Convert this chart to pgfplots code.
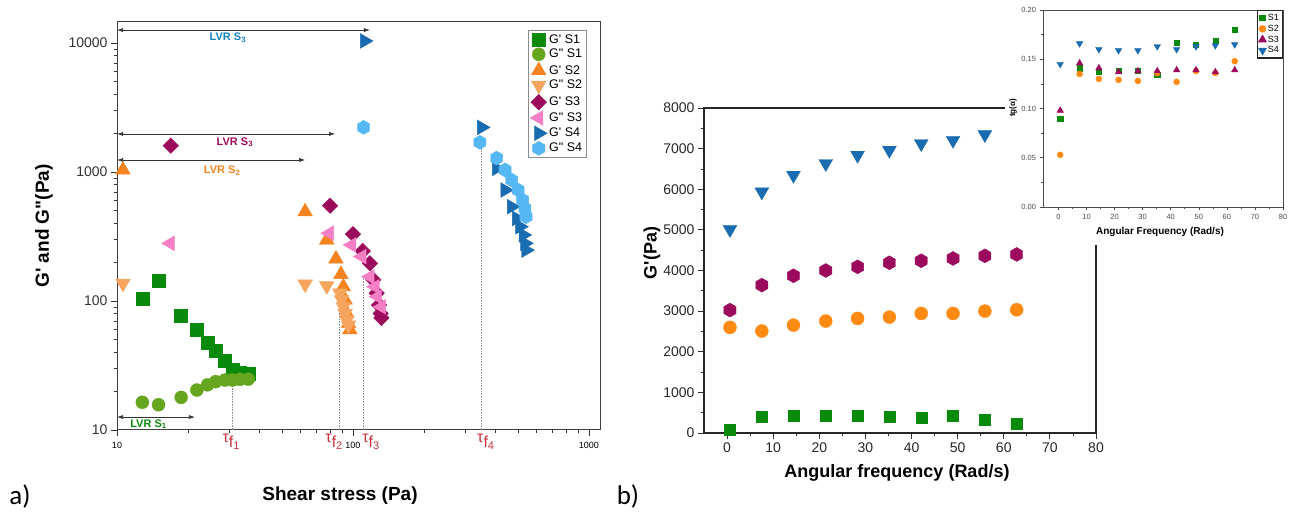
\documentclass[border=0pt]{standalone}
\usepackage{fontspec}
\setmainfont{Liberation Sans}
\newfontfamily\calib{Carlito}
\usepackage{pgfplots}
\pgfplotsset{compat=1.18}
\usetikzlibrary{arrows.meta}

\definecolor{gS1}{HTML}{0A8A0A}
\definecolor{gsS1}{HTML}{66A61E}
\definecolor{gS2}{HTML}{F5831F}
\definecolor{gsS2}{HTML}{F5A55E}
\definecolor{gS3}{HTML}{9C0A5E}
\definecolor{gsS3}{HTML}{F57FC4}
\definecolor{gS4}{HTML}{1A6CB0}
\definecolor{gsS4}{HTML}{55B8F5}
\definecolor{tauRed}{HTML}{C8323A}
\definecolor{bS2}{HTML}{FF8A12}

\pgfdeclareplotmark{hexagon*}{%
  \pgfpathmoveto{\pgfqpointpolar{90}{\pgfplotmarksize}}%
  \pgfpathlineto{\pgfqpointpolar{150}{\pgfplotmarksize}}%
  \pgfpathlineto{\pgfqpointpolar{210}{\pgfplotmarksize}}%
  \pgfpathlineto{\pgfqpointpolar{270}{\pgfplotmarksize}}%
  \pgfpathlineto{\pgfqpointpolar{330}{\pgfplotmarksize}}%
  \pgfpathlineto{\pgfqpointpolar{30}{\pgfplotmarksize}}%
  \pgfpathclose
  \pgfusepathqfillstroke
}

\newcommand{\tf}[1]{τ\raisebox{-5pt}{f\raisebox{-2.5pt}{\fontsize{11}{11}\selectfont #1}}}
\newcommand{\pr}{\textquotesingle}
\newcommand{\dpr}{\textquotedbl}

\begin{document}
\begin{tikzpicture}
\useasboundingbox (0pt,0pt) rectangle (1290pt,519pt);

% ---------- panel a ----------
\begin{axis}[
  at={(117pt,89pt)}, anchor=south west,
  scale only axis, width=483pt, height=408pt,
  xmode=log, ymode=log,
  xmin=10, xmax=1114, ymin=10, ymax=14550,
  xtick={10,100,1000}, ytick={10,100,1000,10000},
  log ticks with fixed point,
  /pgf/number format/1000 sep={},
  /pgf/number format/assume math mode=true,
  tick align=outside, tick pos=left,
  major tick length=6pt, minor tick length=3.5pt,
  every tick/.style={black!80, line width=0.8pt},
  axis line style={black!75, line width=1pt},
  xticklabel style={font=\fontsize{9}{9}\selectfont, yshift=-3pt},
  yticklabel style={font=\fontsize{14}{14}\selectfont, text=black!80},
  clip=false,
  legend cell align=left,
  legend style={at={(0.851,0.980)}, anchor=north west,
    font=\fontsize{12.5}{12.5}\selectfont, draw=black!45,
    row sep=0.6pt, inner sep=2pt},
]
\addplot[only marks, mark=square*, mark size=6.5pt, color=gS1] coordinates {
  (12.8,104) (15.0,144) (18.7,77) (21.8,59.6) (24.2,47.5) (26.2,41.2)
  (28.7,34.4) (30.9,29.2) (33.2,27.8) (36.0,27.2)};
\addlegendentry{G\pr{} S1}
\addplot[only marks, mark=*, mark size=6.5pt, color=gsS1] coordinates {
  (12.8,16.4) (15.0,15.7) (18.7,17.9) (21.8,20.4) (24.2,22.4) (26.2,23.7)
  (28.7,24.4) (30.9,24.4) (33.2,24.7) (36.0,24.8)};
\addlegendentry{G\dpr{} S1}
\addplot[only marks, mark=triangle*, mark size=8.5pt, color=gS2] coordinates {
  (10.6,1037) (62.7,492) (77.4,297) (84.7,212) (88.9,161) (91.0,129)
  (92.6,102) (94.2,80) (95.7,67) (97.0,60)};
\addlegendentry{G\pr{} S2}
\addplot[only marks, mark=triangle*, mark size=8.5pt, color=gsS2, mark options={rotate=180}] coordinates {
  (10.6,137) (62.7,135) (77.4,131) (88.0,115) (89.5,102) (91.0,90)
  (92.6,80) (94.2,71) (95.7,65)};
\addlegendentry{G\dpr{} S2}
\addplot[only marks, mark=square*, mark size=5.5pt, color=gS3, mark options={rotate=45}] coordinates {
  (16.9,1600) (80,548) (100,330) (110,244) (118,196) (122,146)
  (126,115) (129,93) (131,80) (132,74)};
\addlegendentry{G\pr{} S3}
\addplot[only marks, mark=triangle*, mark size=8.5pt, color=gsS3, mark options={rotate=90}] coordinates {
  (16.8,280) (79.4,335) (98.7,272) (109,221) (118,154) (124,129)
  (127,108) (132,90)};
\addlegendentry{G\dpr{} S3}
\addplot[only marks, mark=triangle*, mark size=8.5pt, color=gS4, mark options={rotate=-90}] coordinates {
  (112,10370) (351,2218) (406,1067) (441,725) (470,538) (494,437)
  (510,377) (527,325) (535,280) (541,248)};
\addlegendentry{G\pr{} S4}
\addplot[only marks, mark=hexagon*, mark size=7pt, color=gsS4] coordinates {
  (111,2218) (345,1698) (406,1282) (441,1037) (470,867) (501,725)
  (523,607) (535,522) (541,450)};
\addlegendentry{G\dpr{} S4}

% failure stresses
\draw[black!45, densely dotted, line width=0.6pt] (axis cs:30.9,10) -- (axis cs:30.9,28);
\draw[black!45, densely dotted, line width=0.6pt] (axis cs:87.5,10) -- (axis cs:87.5,125);
\draw[black!45, densely dotted, line width=0.6pt] (axis cs:111,10) -- (axis cs:111,150);
\draw[black!45, densely dotted, line width=0.6pt] (axis cs:351,10) -- (axis cs:351,1650);
\node[text=tauRed, font=\fontsize{16}{16}\selectfont, yshift=-12pt] at (axis cs:30.4,10) {\tf{1}};
\node[text=tauRed, font=\fontsize{16}{16}\selectfont, yshift=-12pt] at (axis cs:83,10) {\tf{2}};
\node[text=tauRed, font=\fontsize{16}{16}\selectfont, yshift=-12pt] at (axis cs:119,10) {\tf{3}};
\node[text=tauRed, font=\fontsize{16}{16}\selectfont, yshift=-12pt] at (axis cs:365,10) {\tf{4}};

% linear viscoelastic ranges
\draw[{Latex[length=6pt,width=4pt]}-{Latex[length=6pt,width=4pt]}, black!80, line width=0.6pt]
  (axis cs:10,12600) -- (axis cs:118,12600);
\node[text=gS4!85!cyan, font=\bfseries\fontsize{11}{11}\selectfont] at (axis cs:29.5,11000) {LVR S\textsubscript{3}};
\draw[{Latex[length=6pt,width=4pt]}-{Latex[length=6pt,width=4pt]}, black!80, line width=0.6pt]
  (axis cs:10,1973) -- (axis cs:84,1973);
\node[text=gS3, font=\bfseries\fontsize{11}{11}\selectfont] at (axis cs:31.6,1700) {LVR S\textsubscript{3}};
\draw[{Latex[length=6pt,width=4pt]}-{Latex[length=6pt,width=4pt]}, black!80, line width=0.6pt]
  (axis cs:10,1239) -- (axis cs:62.7,1239);
\node[text=gS2, font=\bfseries\fontsize{11}{11}\selectfont] at (axis cs:27.9,1030) {LVR S\textsubscript{2}};
\draw[{Latex[length=6pt,width=4pt]}-{Latex[length=6pt,width=4pt]}, black!80, line width=0.6pt]
  (axis cs:10,12.6) -- (axis cs:21.4,12.6);
\node[text=gS1, font=\bfseries\fontsize{11}{11}\selectfont] at (axis cs:13.6,11.1) {LVR S\textsubscript{1}};
\end{axis}

\node[rotate=90, font=\bfseries\fontsize{19}{19}\selectfont] at (44pt,293pt) {G\pr{} and G\dpr{}(Pa)};
\node[font=\bfseries\fontsize{19}{19}\selectfont] at (340pt,23pt) {Shear stress (Pa)};
\node[font=\calib\fontsize{27}{27}\selectfont] at (20pt,23pt) {a)};
\node[font=\calib\fontsize{27}{27}\selectfont] at (628pt,23pt) {b)};

% ---------- panel b ----------
\begin{axis}[
  at={(704pt,86pt)}, anchor=south west,
  scale only axis, width=392pt, height=325pt,
  xmin=-5, xmax=80, ymin=0, ymax=8000,
  xtick={0,10,...,80}, ytick={0,1000,...,8000},
  minor x tick num=1, minor y tick num=1,
  scaled y ticks=false,
  /pgf/number format/1000 sep={},
  /pgf/number format/assume math mode=true,
  tick align=outside, tick pos=left,
  major tick length=6pt, minor tick length=3.5pt,
  every tick/.style={black!80, line width=0.8pt},
  axis line style={black!85, line width=1.1pt},
  ticklabel style={font=\fontsize{14}{14}\selectfont, text=black!85},
]
\addplot[only marks, mark=triangle*, mark size=8pt, color=gS4, mark options={rotate=180}] coordinates {
  (0.628,5010) (7.54,5935) (14.4,6345) (21.4,6633) (28.3,6837) (35.2,6960)
  (42.1,7125) (49.0,7206) (55.9,7346)};
\addplot[only marks, mark=hexagon*, mark size=7pt, color=gS3] coordinates {
  (0.628,3025) (7.54,3640) (14.4,3870) (21.4,4000) (28.3,4090) (35.2,4190)
  (42.1,4240) (49.0,4296) (55.9,4360) (62.8,4395)};
\addplot[only marks, mark=*, mark size=6.5pt, color=bS2] coordinates {
  (0.628,2600) (7.54,2510) (14.4,2656) (21.4,2755) (28.3,2820) (35.2,2853)
  (42.1,2943) (49.0,2943) (55.9,3000) (62.8,3033)};
\addplot[only marks, mark=square*, mark size=5.5pt, color=gS1] coordinates {
  (0.628,74) (7.54,400) (14.4,425) (21.4,425) (28.3,425) (35.2,400)
  (42.1,376) (49.0,425) (55.9,320) (62.8,238)};
\end{axis}
\node[rotate=90, font=\bfseries\fontsize{18}{18}\selectfont] at (652pt,266pt) {G\pr{}(Pa)};
\node[font=\bfseries\fontsize{18}{18}\selectfont] at (897pt,46pt) {Angular frequency (Rad/s)};

% ---------- inset ----------
\fill[white] (1005pt,274pt) rectangle (1290pt,519pt);
\begin{axis}[
  at={(1043pt,312pt)}, anchor=south west,
  scale only axis, width=240pt, height=197pt,
  xmin=-5.5, xmax=80, ymin=0, ymax=0.2,
  xtick={0,10,...,80}, ytick={0,0.05,0.1,0.15,0.2},
  minor x tick num=1, minor y tick num=1,
  yticklabel style={/pgf/number format/.cd, fixed, fixed zerofill, precision=2},
  /pgf/number format/assume math mode=true,
  tick align=outside, tick pos=left,
  major tick length=3.5pt, minor tick length=2pt,
  every tick/.style={black!70, line width=0.6pt},
  axis line style={black!70, line width=0.8pt},
  ticklabel style={font=\fontsize{7.5}{7.5}\selectfont, text=black!70},
  legend cell align=left,
  legend style={at={(1,1)}, anchor=north east, draw=black!85, line width=1.4pt,
    font=\fontsize{9}{9}\selectfont, row sep=-1pt, inner sep=1.5pt},
]
\addplot[only marks, mark=square*, mark size=2.6pt, color=gS1] coordinates {
  (0.628,0.090) (7.54,0.141) (14.4,0.137) (21.4,0.138) (28.3,0.138) (35.2,0.134)
  (42.1,0.167) (49.0,0.165) (55.9,0.169) (62.8,0.180)};
\addlegendentry{S1}
\addplot[only marks, mark=*, mark size=3pt, color=bS2] coordinates {
  (0.628,0.053) (7.54,0.135) (14.4,0.130) (21.4,0.129) (28.3,0.128) (35.2,0.136)
  (42.1,0.127) (49.0,0.138) (55.9,0.136) (62.8,0.148)};
\addlegendentry{S2}
\addplot[only marks, mark=triangle*, mark size=3.8pt, color=gS3] coordinates {
  (0.628,0.098) (7.54,0.146) (14.4,0.141) (21.4,0.137) (28.3,0.138) (35.2,0.138)
  (42.1,0.139) (49.0,0.139) (55.9,0.137) (62.8,0.139)};
\addlegendentry{S3}
\addplot[only marks, mark=triangle*, mark size=3.8pt, color=gS4, mark options={rotate=180}] coordinates {
  (0.628,0.145) (7.54,0.166) (14.4,0.160) (21.4,0.159) (28.3,0.159) (35.2,0.163)
  (42.1,0.160) (49.0,0.163) (55.9,0.164) (62.8,0.165)};
\addlegendentry{S4}
\end{axis}
\node[rotate=90, font=\bfseries\fontsize{8}{8}\selectfont] at (1013pt,411pt) {tg(α)};
\node[font=\bfseries\fontsize{10}{10}\selectfont] at (1160pt,287pt) {Angular Frequency (Rad/s)};
\end{tikzpicture}
\end{document}
